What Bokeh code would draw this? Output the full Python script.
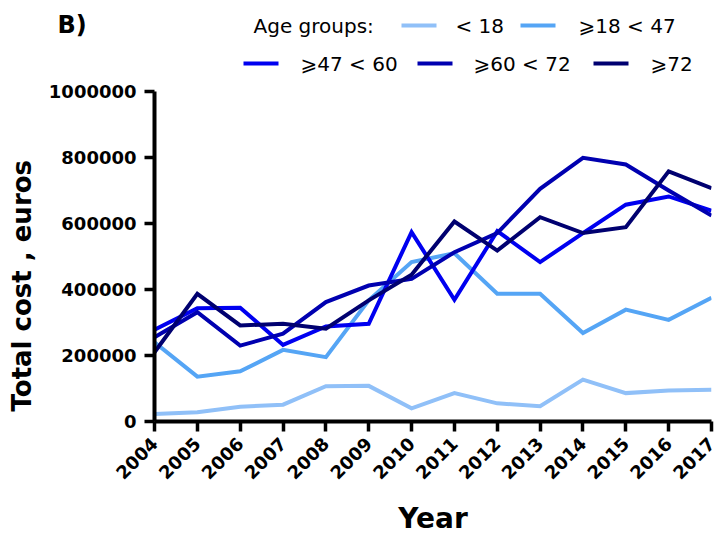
from bokeh.plotting import figure
from bokeh.models import Range1d, FixedTicker, BasicTickFormatter, Label, BoxAnnotation
from bokeh.layouts import column, row
from bokeh.embed import file_html
from bokeh.resources import INLINE
import math

years = [2004, 2005, 2006, 2007, 2008, 2009, 2010, 2011, 2012, 2013, 2014, 2015, 2016, 2017]
under_18 = [23000, 28000, 45000, 51000, 107000, 108000, 40000, 86000, 55000, 46000, 127000, 86000, 94000, 96000]
age_18_47 = [240000, 136000, 152000, 217000, 195000, 367000, 483000, 510000, 387000, 387000, 268000, 339000, 308000, 375000]
age_47_60 = [278000, 343000, 345000, 232000, 288000, 296000, 574000, 369000, 577000, 483000, 571000, 657000, 682000, 639000]
age_60_72 = [255000, 331000, 230000, 266000, 362000, 412000, 432000, 513000, 571000, 705000, 799000, 779000, 700000, 624000]
age_72_plus = [210000, 387000, 291000, 296000, 281000, 367000, 445000, 606000, 518000, 619000, 571000, 589000, 758000, 707000]
y_ticks = [0, 200000, 400000, 600000, 800000, 1000000]

series_names = ["< 18", "\u2A7E18 < 47", "\u2A7E47 < 60", "\u2A7E60 < 72", "\u2A7E72"]
series_values = [under_18, age_18_47, age_47_60, age_60_72, age_72_plus]
series_colors = ["#90C0F8", "#55A5F5", "#0000F0", "#0000B0", "#000070"]

FONT = "DejaVu Sans"
HEAD_H = 76

# ---------- header (panel letter + legend) ----------
head = figure(width=723, height=HEAD_H, output_backend="svg", toolbar_location=None,
              x_range=Range1d(0, 723), y_range=Range1d(0, HEAD_H),
              x_axis_location=None, y_axis_location=None, min_border=0)
head.outline_line_color = None
head.grid.visible = False

head.add_layout(Label(x=57, y=HEAD_H - 24, x_units="screen", y_units="screen", text="B)",
                      text_font=FONT, text_font_style="bold", text_font_size="24px",
                      text_color="black", text_baseline="middle"))
head.add_layout(Label(x=253, y=HEAD_H - 25, x_units="screen", y_units="screen", text="Age groups:",
                      text_font=FONT, text_font_size="20px", text_color="black",
                      text_baseline="middle"))
legend_swatch_x = [401, 520, 243, 417, 593]
legend_text_x = [455, 578, 300, 473, 650]
legend_row_y = [HEAD_H - 25, HEAD_H - 25, HEAD_H - 63, HEAD_H - 63, HEAD_H - 63]
for name, col, sx, tx, ry in zip(series_names, series_colors, legend_swatch_x, legend_text_x, legend_row_y):
    head.add_layout(BoxAnnotation(left=sx, right=sx + 35, bottom=ry - 2, top=ry + 2,
                                  left_units="screen", right_units="screen",
                                  bottom_units="screen", top_units="screen",
                                  fill_color=col, fill_alpha=1, line_color=None))
    head.add_layout(Label(x=tx, y=ry, x_units="screen", y_units="screen", text=name,
                          text_font=FONT, text_font_size="20px", text_color="black",
                          text_baseline="middle"))

# ---------- y axis title strip ----------
ytl = figure(width=38, height=538 - HEAD_H, output_backend="svg", toolbar_location=None,
             x_range=Range1d(0, 38), y_range=Range1d(0, 538 - HEAD_H),
             x_axis_location=None, y_axis_location=None, min_border=0)
ytl.outline_line_color = None
ytl.grid.visible = False
ytl.add_layout(Label(x=21, y=10, x_units="screen", y_units="screen", text="Total cost , euros",
                     angle=math.pi / 2, text_font=FONT, text_font_style="bold",
                     text_font_size="26px", text_color="black",
                     text_align="left", text_baseline="middle"))

# ---------- main chart ----------
p = figure(width=685, height=538 - HEAD_H, output_backend="svg", toolbar_location=None,
           x_range=Range1d(2004, 2017), y_range=Range1d(0, 1000000),
           min_border_left=116, min_border_right=12, min_border_top=91 - HEAD_H,
           min_border_bottom=117)
p.outline_line_color = None
p.grid.visible = False

for vals, col in zip(series_values, series_colors):
    p.line(years, vals, line_color=col, line_width=4, line_join="miter")

for ax in (p.xaxis[0], p.yaxis[0]):
    ax.axis_line_width = 4
    ax.axis_line_color = "black"
    ax.major_tick_line_width = 3.5
    ax.major_tick_line_color = "black"
    ax.major_tick_out = 10
    ax.major_tick_in = 0
    ax.minor_tick_line_color = None
    ax.major_label_text_font = FONT
    ax.major_label_text_font_style = "bold"
    ax.major_label_text_color = "black"
    ax.axis_label_text_font = FONT
    ax.axis_label_text_font_style = "bold"
    ax.axis_label_text_color = "black"

p.yaxis.ticker = FixedTicker(ticks=y_ticks)
p.yaxis.formatter = BasicTickFormatter(use_scientific=False)
p.yaxis.major_label_text_font_size = "18px"
p.yaxis.major_label_standoff = 8

p.xaxis.ticker = FixedTicker(ticks=years)
p.xaxis.major_label_text_font_size = "18px"
p.xaxis.major_label_orientation = math.pi / 4
p.xaxis.major_label_standoff = 9
p.xaxis.axis_label = "Year"
p.xaxis.axis_label_text_font_size = "28px"
p.xaxis.axis_label_standoff = 14

layout = column(head, row(ytl, p, spacing=0), spacing=0)
open("out.html", "w").write(file_html(layout, INLINE))
